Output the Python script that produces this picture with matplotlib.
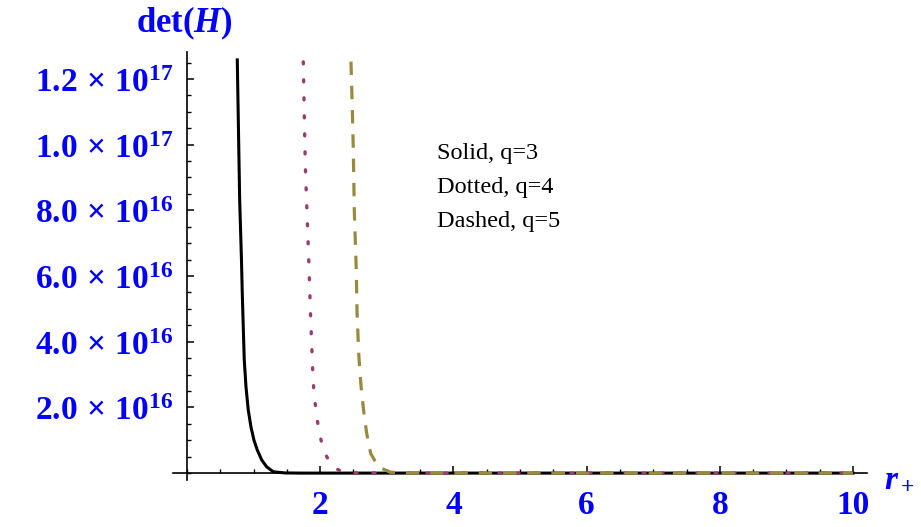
import matplotlib
matplotlib.use("Agg")
import matplotlib.pyplot as plt
from matplotlib.ticker import FixedLocator, MultipleLocator, NullFormatter

# values (r_+ , det(H))
solid_r = [0.755, 0.773, 0.791, 0.818, 0.830, 0.845, 0.860, 0.886, 0.920, 0.961,
           1.006, 1.056, 1.122, 1.197, 1.296, 1.47, 1.7, 10.0]
solid_det = [1.258e17, 1.045e17, 8.32e16, 6.49e16, 5.48e16, 4.45e16, 3.44e16, 2.62e16,
             1.92e16, 1.40e16, 1.0e16, 7.0e15, 4.0e15, 1.9e15, 4e14, 5e13, 0, 0]

dotted_r = [1.746, 1.776, 1.832, 1.857, 1.887, 1.907, 1.932, 1.956, 1.986, 2.027,
            2.098, 2.188, 2.34, 2.52, 3.0, 10.0]
dotted_det = [1.252e17, 9.38e16, 6.28e16, 4.71e16, 3.16e16, 2.38e16, 2.01e16, 1.62e16,
              1.24e16, 8.8e15, 5.0e15, 1.9e15, 3e14, 5e13, 0, 0]

dashed_r = [2.462, 2.482, 2.497, 2.512, 2.542, 2.553, 2.578, 2.598, 2.623, 2.658,
            2.698, 2.758, 2.872, 3.05, 3.27, 4.0, 10.0]
dashed_det = [1.253e17, 1.111e17, 9.86e16, 8.0e16, 6.18e16, 4.91e16, 3.65e16, 3.04e16,
              2.43e16, 1.81e16, 1.21e16, 6.0e15, 1.9e15, 3e14, 5e13, 0, 0]

xtick_vals = [2, 4, 6, 8, 10]
xtick_labels = ["2", "4", "6", "8", "10"]
ytick_vals = [2e16, 4e16, 6e16, 8e16, 1e17, 1.2e17]
ytick_labels = [r"$2.0\,\times\,10^{16}$", r"$4.0\,\times\,10^{16}$", r"$6.0\,\times\,10^{16}$",
                r"$8.0\,\times\,10^{16}$", r"$1.0\,\times\,10^{17}$", r"$1.2\,\times\,10^{17}$"]
legend_lines = ["Solid, q=3", "Dotted, q=4", "Dashed, q=5"]

plt.rcParams['mathtext.fontset'] = 'custom'
plt.rcParams['mathtext.rm'] = 'Liberation Serif:bold'
plt.rcParams['mathtext.bf'] = 'Liberation Serif:bold'
plt.rcParams['mathtext.it'] = 'Liberation Serif:bold:italic'

fig = plt.figure(figsize=(9.21, 5.27), dpi=100)
ax = fig.add_axes([173 / 921, 1 - 480 / 527, 694 / 921, 428 / 527])

ax.plot(solid_r, solid_det, color='black', lw=2.2, zorder=3)
ax.plot(dotted_r, dotted_det, color=(0.6, 0.24, 0.442), lw=2.4,
        linestyle=(0, (0.6, 4.8)), dash_capstyle='round', zorder=3)
ax.plot(dashed_r, dashed_det, color=(0.6, 0.547, 0.24), lw=2.3,
        linestyle=(0, (4.2, 3.4)), zorder=3)

ax.set_xlim(-0.21, 10.21)
ax.set_ylim(-2.1e15, 1.282e17)

for s in ['top', 'right']:
    ax.spines[s].set_visible(False)
ax.spines['left'].set_position(('data', 0))
ax.spines['bottom'].set_position(('data', 0))
for s in ['left', 'bottom']:
    ax.spines[s].set_linewidth(1.2)

ax.xaxis.set_major_locator(FixedLocator(xtick_vals))
ax.set_xticklabels(xtick_labels)
ax.xaxis.set_minor_locator(MultipleLocator(0.5))
ax.yaxis.set_major_locator(FixedLocator(ytick_vals))
ax.set_yticklabels(ytick_labels)
ax.yaxis.set_minor_locator(MultipleLocator(0.5e16))
ax.yaxis.set_minor_formatter(NullFormatter())

ax.tick_params(which='major', direction='in', length=5, width=1.1,
               labelsize=24, labelcolor='blue')
ax.tick_params(which='minor', direction='in', length=2.8, width=1.0)
ax.tick_params(axis='x', pad=12)
ax.tick_params(axis='y', pad=10)
for lab in ax.get_xticklabels():
    lab.set_fontfamily('Liberation Serif')
    lab.set_fontweight('bold')

fig.text(184 / 921, 1 - 23 / 527, r"$\mathrm{det}(H)$", ha='center', va='center',
         fontsize=25, color='blue')
fig.text(884 / 921, 1 - 478 / 527, r"$r_+$", ha='left', va='center',
         fontsize=24, color='blue')

for i, t in enumerate(legend_lines):
    fig.text(437 / 921, 1 - (153 + 34 * i) / 527, t, ha='left', va='center',
             fontsize=17.5, family='Liberation Serif', color='black')

fig.savefig("out.png", dpi=100)
